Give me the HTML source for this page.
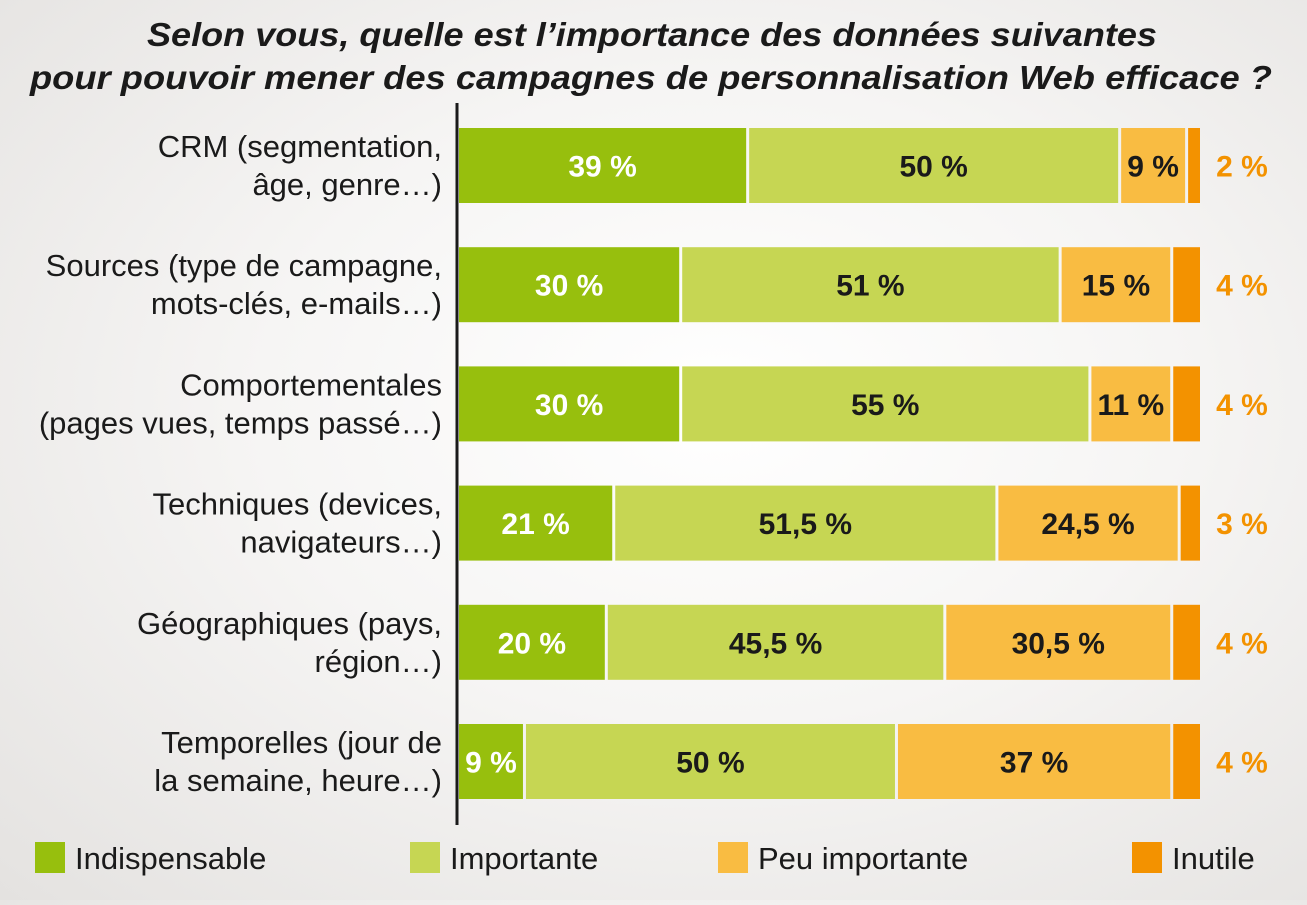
<!DOCTYPE html>
<html><head><meta charset="utf-8">
<style>
html,body{margin:0;padding:0}
body{width:1307px;height:900px;overflow:hidden;font-family:"Liberation Sans",sans-serif;
background:radial-gradient(ellipse at 55% 45%,#ffffff 0%,#f6f5f4 45%,#e4e2e0 100%);}
</style></head><body>
<svg id="chart" width="1307" height="900" xmlns="http://www.w3.org/2000/svg">
<text x="147" y="46" textLength="1010" lengthAdjust="spacingAndGlyphs" font-family="Liberation Sans, sans-serif" font-weight="bold" font-style="italic" font-size="33" fill="#1a1a1a">Selon vous, quelle est l’importance des données suivantes</text>
<text x="30" y="89" textLength="1242" lengthAdjust="spacingAndGlyphs" font-family="Liberation Sans, sans-serif" font-weight="bold" font-style="italic" font-size="33" fill="#1a1a1a">pour pouvoir mener des campagnes de personnalisation Web efficace ?</text>
<line x1="457" y1="103" x2="457" y2="825" stroke="#1a1a1a" stroke-width="3"/>
<g id="bars"></g>
<g id="legend"></g>
</svg>
<script>
const categories1 = ["CRM (segmentation,","Sources (type de campagne,","Comportementales","Techniques (devices,","Géographiques (pays,","Temporelles (jour de"];
const categories2 = ["âge, genre…)","mots-clés, e-mails…)","(pages vues, temps passé…)","navigateurs…)","région…)","la semaine, heure…)"];
const indispensable = [39,30,30,21,20,9];
const importante = [50,51,55,51.5,45.5,50];
const peuImportante = [9,15,11,24.5,30.5,37];
const inutile = [2,4,4,3,4,4];
const seriesNames = ["Indispensable","Importante","Peu importante","Inutile"];
const colors = ["#97bf0d","#c6d653","#f9bc42","#f39200"];
const textColors = ["#ffffff","#1a1a1a","#1a1a1a","#f39200"];
const NS="http://www.w3.org/2000/svg";
const x0=459, pxPer=7.44, barH=75, rowTop=128, rowStep=119.2;
const xs=v=>x0+v*pxPer;
const ys=i=>rowTop+i*rowStep;
const fmt=v=>String(v).replace('.',',')+" %";
const g=document.getElementById('bars');
const series=[indispensable,importante,peuImportante,inutile];
function mk(t,a){const e=document.createElementNS(NS,t);for(const k in a)e.setAttribute(k,a[k]);return e;}
categories1.forEach((c,i)=>{
  const y=ys(i);
  const l1=mk('text',{x:442,y:y+29,'text-anchor':'end','font-size':31,fill:'#1a1a1a'});
  l1.textContent=c;
  
  
  g.appendChild(l1);
  const l2=mk('text',{x:442,y:y+67,'text-anchor':'end','font-size':31,fill:'#1a1a1a'});
  l2.textContent=categories2[i];
  
  
  g.appendChild(l2);
  let acc=0;
  series.forEach((s,k)=>{
    const v=s[i];
    const xa=xs(acc), xb=xs(acc+v);
    const r=mk('rect',{x:xa,y:y,width:Math.max(0,xb-xa-3),height:barH,fill:colors[k]});
    
    
    g.appendChild(r);
    const t=mk('text',{'font-size':30,'font-weight':'bold',fill:textColors[k],y:y+barH/2+11});
    if(k===3){t.setAttribute('x',1242);t.setAttribute('text-anchor','middle');}
    else{t.setAttribute('x',(xa+xb-3)/2);t.setAttribute('text-anchor','middle');}
    t.textContent=fmt(v);
    
    
    g.appendChild(t);
    acc+=v;
  });
});
const lg=document.getElementById('legend');
const legX=[35,410,718,1132];
seriesNames.forEach((n,k)=>{
  const r=mk('rect',{x:legX[k],y:842,width:30,height:31,fill:colors[k]});
  
  
  lg.appendChild(r);
  const t=mk('text',{x:legX[k]+40,y:869,'font-size':31,fill:'#1a1a1a'});
  t.textContent=n;
  
  
  lg.appendChild(t);
});
</script>
</body></html>
